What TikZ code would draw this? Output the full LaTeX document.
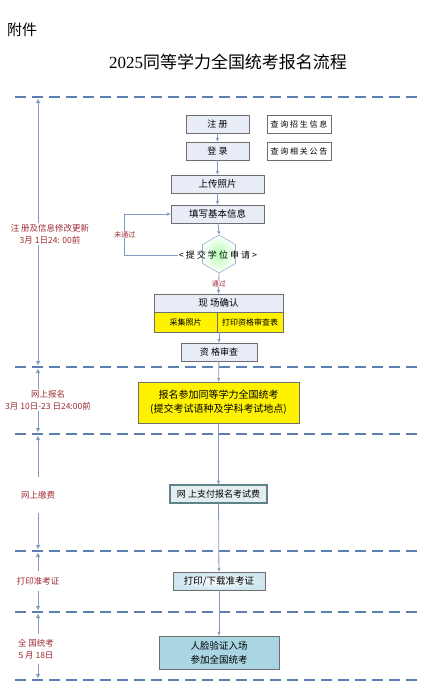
\documentclass[tikz,border=0pt]{standalone}
\usepackage{fontspec}
\setmainfont{Liberation Serif}
\newfontfamily\cjk{Noto Sans CJK SC}
\usetikzlibrary{arrows.meta, shapes.geometric, positioning, calc}
\definecolor{flowc}{HTML}{7F9BC3}
\definecolor{sepc}{HTML}{5D7EB3}
\definecolor{labc}{HTML}{9E2A32}
\definecolor{lav}{HTML}{E8ECF6}
\definecolor{boxline}{HTML}{6E6E6E}
\definecolor{payfill}{HTML}{E4EEF1}
\definecolor{payline}{HTML}{5F8189}
\definecolor{tickfill}{HTML}{CDE5EE}
\definecolor{examfill}{HTML}{A9D6E2}

\begin{document}
\begin{tikzpicture}[x=1pt, y=-1pt, font=\cjk\fontsize{9}{11}\selectfont,
  >={Stealth[length=4pt, width=3.5pt]},
  pbox/.style={draw=boxline, line width=0.8pt, fill=lav, minimum height=18pt, inner sep=1pt},
  qbox/.style={draw=boxline, line width=0.8pt, fill=white, minimum height=18pt, inner sep=1pt, font=\cjk\fontsize{8}{10}\selectfont},
  ybox/.style={draw=boxline, line width=0.8pt, fill=yellow, inner sep=1pt},
  flow/.style={draw=flowc, line width=0.8pt, ->},
  sepline/.style={draw=sepc, line width=2.2pt, dash pattern=on 11pt off 6pt},
  sidearr/.style={draw=flowc, line width=0.8pt, <->, >={Triangle[length=4pt, width=4pt]}},
  lab/.style={fill=white, text=labc, align=center, inner sep=1pt, font=\cjk\fontsize{8.5}{12}\selectfont},
  note/.style={fill=white, text=labc, inner sep=0.5pt, font=\cjk\fontsize{7}{8}\selectfont}]
  \useasboundingbox (0,0) rectangle (433,697);

  % heading
  \node[font=\cjk\fontsize{15}{16}\selectfont] (annex) at (22,30) {附件};
  \node[font=\fontsize{17}{18}\selectfont] (title) at (228,62) {2025{\cjk 同等学力全国统考报名流程}};

  % separators and stage arrows
  \foreach \y in {97,367,434,551,612,680}
    \draw[sepline] (15,\y) -- (422,\y);
  \foreach \a/\b in {97/367,367/434,434/551,551/612,612/680}
    \draw[sidearr] (38,{\a+2}) -- (38,{\b-2});

  \node[lab] (lab1) at (50,234) {注 册及信息修改更新\\3月 1日24: 00前};
  \node[lab] (lab2) at (48,400) {网上报名\\3月 10日-23 日24:00前};
  \node[lab, minimum height=36pt] (lab3) at (38,495) {网上缴费};
  \node[lab, minimum height=20pt] (lab4) at (38,581) {打印准考证};
  \node[lab, minimum height=30pt] (lab5) at (36,649) {全 国统考\\5 月 18日};

  % boxes
  \node[pbox, minimum width=63pt] (reg) at (217.5,124) {注 册};
  \node[pbox, minimum width=63pt] (login) at (217.5,151) {登 录};
  \node[qbox, minimum width=64pt] (qinfo) at (299,124) {查 询 招 生 信 息};
  \node[qbox, minimum width=64pt] (qnotice) at (299,151) {查 询 相 关 公 告};
  \node[pbox, minimum width=93pt, font=\cjk\fontsize{9.5}{11}\selectfont] (photo) at (217.5,184) {上传照片};
  \node[pbox, minimum width=93pt, font=\cjk\fontsize{9.5}{11}\selectfont] (basic) at (217.5,214) {填写基本信息};
  \node[regular polygon, regular polygon sides=6, shape border rotate=30, minimum size=38pt,
        inner sep=0pt, draw=flowc!80, line width=0.6pt, inner color=green!30, outer color=white] (apply) at (219,254) {};
  \node[inner sep=1pt] (applytxt) at (218,255) {< 提 交 学 位 申 请 >};
  \node[pbox, minimum width=129pt, font=\cjk\fontsize{9.5}{11}\selectfont] (confirm) at (218.5,303) {现 场确认};
  \node[ybox, minimum width=63pt, minimum height=20pt, font=\cjk\fontsize{8}{10}\selectfont, anchor=north west] (collect) at (confirm.south west) {采集照片};
  \node[ybox, minimum width=66pt, minimum height=20pt, font=\cjk\fontsize{8}{10}\selectfont, anchor=north east] (printform) at (confirm.south east) {打印资格审查表};
  \node[pbox, minimum width=76pt] (review) at (219,352) {资 格审查};
  \node[ybox, minimum width=161pt, minimum height=41pt, align=center, font=\cjk\fontsize{10}{14}\selectfont] (signup) at (218.5,402.5) {报名参加同等学力全国统考\\(提交考试语种及学科考试地点)};
  \node[draw=payline, line width=1.2pt, fill=payfill, minimum width=97pt, minimum height=18pt, inner sep=1pt] (pay) at (218.5,494) {网 上支付报名考试费};
  \node[draw=boxline, line width=0.8pt, inner color=white, outer color=tickfill, minimum width=92pt, minimum height=18pt, inner sep=1pt, font=\cjk\fontsize{9.5}{11}\selectfont] (ticket) at (219,581) {打印/下载准考证};
  \node[draw=boxline, line width=0.8pt, fill=examfill, minimum width=120pt, minimum height=33pt, align=center, font=\cjk\fontsize{9.5}{14}\selectfont] (exam) at (219,652.5) {人脸验证入场\\参加全国统考};

  % connectors
  \draw[flow] (reg) -- (login);
  \draw[flow] (login) -- (photo);
  \draw[flow] (photo) -- (basic);
  \draw[flow] (basic) -- (apply.north);
  \draw[flow] (applytxt.west) -- ++(-53,0) |- (basic.west)
    node[note, pos=0.25] (fail) {未通过};
  \draw[flow] (apply.south) -- (confirm.north)
    node[note, midway] (pass) {通过};
  \draw[flow] (confirm.south -| review.north) ++(0,20) -- (review.north);
  \draw[flow] (review) -- (signup);
  \draw[flow] (signup) -- (pay);
  \draw[flow] (pay) -- (ticket);
  \draw[flow] (ticket) -- (exam);
\end{tikzpicture}
\end{document}
